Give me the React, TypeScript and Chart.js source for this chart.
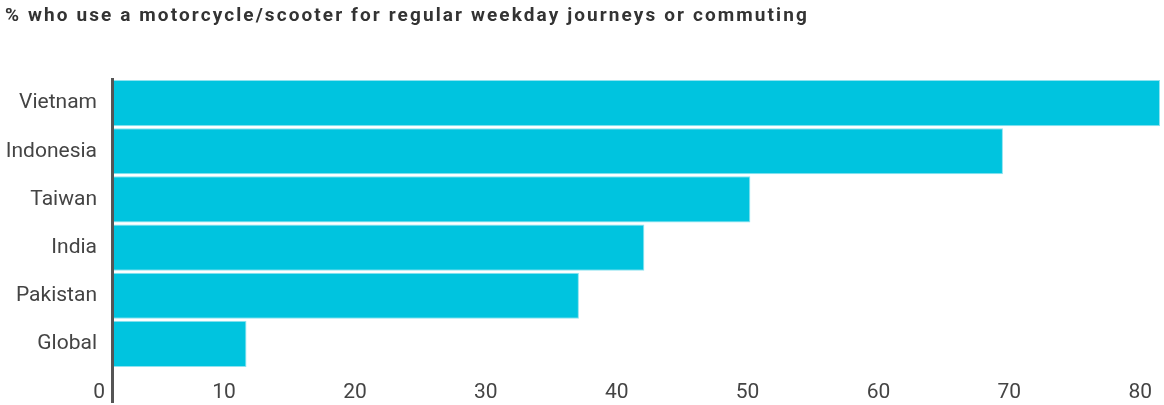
import React, { useEffect, useRef } from "react";
import { Chart, registerables } from "chart.js";

Chart.register(...registerables);

const categories = ["Vietnam", "Indonesia", "Taiwan", "India", "Pakistan", "Global"];
const values = [80, 68, 48.7, 40.6, 35.6, 10.2];
const xTicks = [0, 10, 20, 30, 40, 50, 60, 70, 80];
const titleText = "% who use a motorcycle/scooter for regular weekday journeys or commuting";

const zeroLine = {
  id: "zeroLine",
  afterDatasetsDraw(chart: any) {
    const ctx = chart.ctx;
    const x = chart.scales.x.getPixelForValue(0);
    ctx.save();
    ctx.strokeStyle = "#555555";
    ctx.lineWidth = 3;
    ctx.beginPath();
    ctx.moveTo(x - 0.5, 78);
    ctx.lineTo(x - 0.5, chart.height - 2);
    ctx.stroke();
    ctx.restore();
  },
};

const titlePlugin = {
  id: "customTitle",
  afterDraw(chart: any) {
    const ctx = chart.ctx;
    ctx.save();
    ctx.font = "bold 19px Roboto";
    (ctx as any).letterSpacing = "2.1px";
    ctx.fillStyle = "#333333";
    ctx.textAlign = "left";
    ctx.textBaseline = "alphabetic";
    ctx.fillText(titleText, 5, 21);
    ctx.restore();
  },
};

export default function App() {
  const ref = useRef<HTMLCanvasElement>(null);
  useEffect(() => {
    document.body.style.margin = "0";
    const chart = new Chart(ref.current!, {
      type: "bar",
      data: {
        labels: categories,
        datasets: [
          {
            data: values,
            backgroundColor: "#00c4df",
            borderColor: "#8fe3f0",
            borderWidth: 1,
            barPercentage: 1,
            categoryPercentage: 0.96,
          },
        ],
      },
      plugins: [zeroLine, titlePlugin],
      options: {
        indexAxis: "y",
        animation: false,
        responsive: false,
        layout: { padding: { left: 0, right: 4, top: 79, bottom: 0 } },
        plugins: {
          legend: { display: false },
          tooltip: { enabled: false },
          title: { display: false },
        },
        scales: {
          x: {
            min: 0,
            max: 80,
            afterBuildTicks: (s: any) => {
              s.ticks = xTicks.map((v) => ({ value: v }));
            },
            afterFit: (s: any) => {
              s.height = 37;
            },
            grid: { display: false, drawTicks: true, tickLength: 12 },
            border: { display: false },
            ticks: {
              align: "end",
              padding: 0,
              labelOffset: -8,
              color: "#444444",
              font: { family: "Roboto", size: 21 },
            },
          },
          y: {
            afterFit: (s: any) => {
              s.width = 113;
            },
            grid: { display: false, drawTicks: false },
            border: { display: false },
            ticks: {
              padding: 16,
              color: "#444444",
              font: { family: "Roboto", size: 21 },
            },
          },
        },
      },
    });
    return () => chart.destroy();
  }, []);
  return (
    <div style={{ width: 1164, height: 405 }}>
      <canvas ref={ref} width={1164} height={405} />
    </div>
  );
}
